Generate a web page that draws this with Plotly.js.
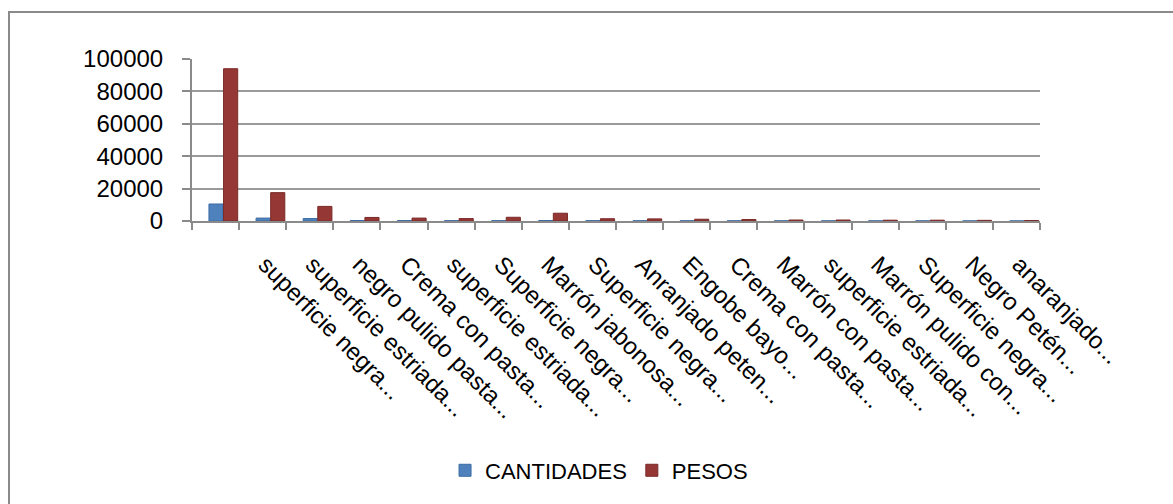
<!DOCTYPE html>
<html>
<head>
<meta charset="utf-8">
<script src="https://cdn.plot.ly/plotly-3.0.1.min.js"></script>
<style>
  html, body { margin: 0; padding: 0; background: #fff; overflow: hidden; }
  #wrap { position: relative; width: 1173px; height: 504px; }
  #chart { position: absolute; left: 0; top: 0; width: 1173px; height: 504px; }
  #frame { position: absolute; left: 8px; top: 11px; width: 1300px; height: 600px;
           border-left: 2px solid #8a8a8a; border-top: 2px solid #8a8a8a; pointer-events: none; }
</style>
</head>
<body>
<div id="wrap">
  <div id="chart"></div>
  <div id="frame"></div>
</div>
<script>
// Category labels (the 18th category has no visible label)
const categories = [
  "superficie negra...",
  "superficie estriada...",
  "negro pulido pasta...",
  "Crema con pasta...",
  "superficie estriada...",
  "Superficie negra...",
  "Marrón jabonosa...",
  "Superficie negra...",
  "Anranjado peten...",
  "Engobe bayo...",
  "Crema con pasta...",
  "Marrón con pasta...",
  "superficie estriada...",
  "Marrón pulido con...",
  "Superficie negra...",
  "Negro Petén...",
  "anaranjado...",
  ""
];
const cantidades = [10500, 1800, 1500, 300, 250, 200, 200, 300, 200, 150, 150, 120, 100, 100, 80, 80, 60, 50];
const pesos      = [94000, 17500, 9000, 2200, 1800, 1500, 2300, 4800, 1400, 1300, 1100, 900, 600, 600, 500, 500, 400, 300];
const yTicks = [0, 20000, 40000, 60000, 80000, 100000];

const idx = categories.map((_, i) => i);
const FONT = "Liberation Sans, Arial, sans-serif";

const traces = [
  { type: "bar", name: "CANTIDADES", x: idx, y: cantidades,
    offset: -0.14, width: 0.3,
    marker: { color: "#4F81BD", line: { color: "#3A6BA5", width: 1 } } },
  { type: "bar", name: "PESOS", x: idx, y: pesos,
    offset: 0.17, width: 0.3,
    marker: { color: "#953735", line: { color: "#7A2A28", width: 1 } } }
];

const layout = {
  width: 1173, height: 504,
  margin: { l: 192, r: 133, t: 59, b: 283 },
  paper_bgcolor: "rgba(0,0,0,0)", plot_bgcolor: "rgba(0,0,0,0)",
  font: { family: FONT, color: "#000" },
  barmode: "overlay",
  showlegend: true,
  legend: { orientation: "h", x: 0.48, xanchor: "center", y: -1.54, yanchor: "middle",
            font: { family: FONT, size: 22, color: "#000" }, itemwidth: 30 },
  xaxis: {
    type: "category",
    range: [-0.5, 17.5],
    tickmode: "array", tickvals: idx, ticktext: categories,
    tickson: "boundaries",
    ticks: "outside", ticklen: 7, tickwidth: 2, tickcolor: "#8a8a8a",
    showline: true, linecolor: "#8a8a8a", linewidth: 2,
    showgrid: false, zeroline: false,
    tickangle: 45,
    ticklabelshift: 50, ticklabelstandoff: 18,
    tickfont: { family: FONT, size: 24, color: "#000" }
  },
  yaxis: {
    range: [0, 100000],
    tickmode: "array", tickvals: yTicks, ticktext: yTicks.map(String),
    ticks: "outside", ticklen: 8, tickwidth: 2, tickcolor: "#8a8a8a",
    showline: true, linecolor: "#8a8a8a", linewidth: 2,
    showgrid: true, gridcolor: "#9a9a9a", gridwidth: 2,
    zeroline: false,
    ticklabelstandoff: 14,
    tickfont: { family: FONT, size: 24, color: "#000" }
  }
};

Plotly.newPlot("chart", traces, layout, { displayModeBar: false, staticPlot: true });
</script>
</body>
</html>
